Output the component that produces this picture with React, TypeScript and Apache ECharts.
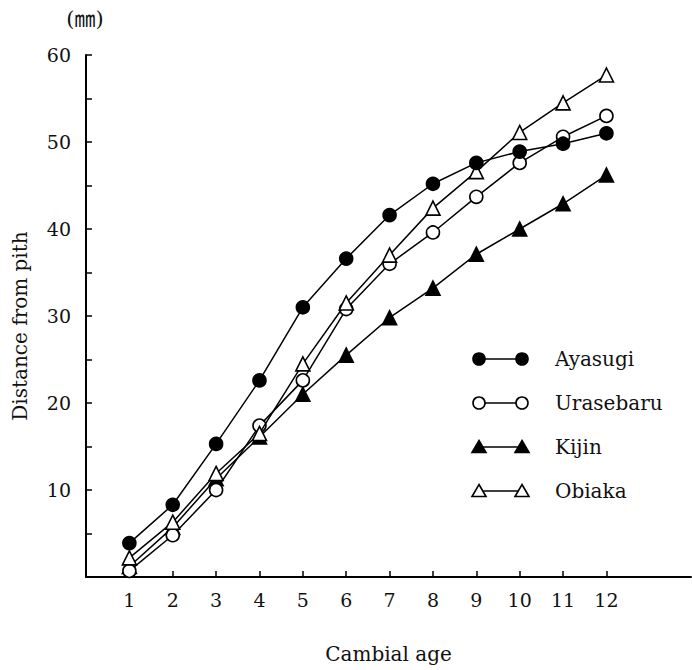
import React, { useEffect, useRef } from "react";
import * as echarts from "echarts";

const ages = [1, 2, 3, 4, 5, 6, 7, 8, 9, 10, 11, 12];
const ayasugi = [3.9, 8.3, 15.3, 22.6, 31.0, 36.6, 41.6, 45.2, 47.6, 48.9, 49.8, 51.0];
const urasebaru = [0.7, 4.8, 10.0, 17.4, 22.6, 30.8, 36.0, 39.6, 43.7, 47.6, 50.6, 53.0];
const kijin = [1.2, 5.7, 11.3, 16.1, 21.0, 25.5, 29.8, 33.2, 37.1, 40.0, 42.9, 46.2];
const obiaka = [2.2, 6.3, 11.9, 16.5, 24.5, 31.5, 37.0, 42.4, 46.6, 51.1, 54.5, 57.7];
const yLabels = [10, 20, 30, 40, 50, 60];
const legendNames = ["Ayasugi", "Urasebaru", "Kijin", "Obiaka"];

const FONT = "DejaVu Serif";

export default function App() {
  const ref = useRef<HTMLDivElement>(null);
  useEffect(() => {
    if (!ref.current) return;
    const chart = echarts.init(ref.current, null, { renderer: "svg" });
    const pairs = (arr: number[]) => ages.map((a, i) => [a, arr[i]]);
    const mk = (name: string, arr: number[], symbol: string, filled: boolean, z: number) => ({
      name,
      type: "line",
      data: pairs(arr),
      symbol,
      symbolSize: symbol === "triangle" ? 14 : 13,
      z,
      lineStyle: { color: "#000", width: 1.5 },
      itemStyle: { color: filled ? "#000" : "#fff", borderColor: "#000", borderWidth: 1.6 },
    });

    // legend via graphic
    const rowsY = [359, 403, 447, 491];
    const styles = [
      { sym: "circle", filled: true },
      { sym: "circle", filled: false },
      { sym: "triangle", filled: true },
      { sym: "triangle", filled: false },
    ];
    const lx1 = 479, lx2 = 522;
    const graphics: any[] = [];
    legendNames.forEach((n, i) => {
      const y = rowsY[i];
      const st = styles[i];
      graphics.push({ type: "line", shape: { x1: lx1, y1: y, x2: lx2, y2: y }, style: { stroke: "#000", lineWidth: 1.5 } });
      [lx1, lx2].forEach((cx) => {
        const fill = st.filled ? "#000" : "#fff";
        if (st.sym === "circle") {
          graphics.push({ type: "circle", shape: { cx, cy: y, r: 6 }, style: { fill, stroke: "#000", lineWidth: 1.6 } });
        } else {
          graphics.push({
            type: "polygon",
            shape: { points: [[cx, y - 6.5], [cx + 7, y + 5.5], [cx - 7, y + 5.5]] },
            style: { fill, stroke: "#000", lineWidth: 1.6 },
          });
        }
      });
      graphics.push({
        type: "text",
        x: 555,
        y,
        style: { text: n, font: `20px "${FONT}"`, fill: "#111", verticalAlign: "middle" },
      });
    });
    graphics.push({
      type: "text",
      x: 85,
      y: 19,
      style: { text: "(㎜)", font: `21px "${FONT}", "Noto Sans CJK JP"`, fill: "#111", align: "center", verticalAlign: "middle" },
    });
    graphics.push({
      type: "text",
      x: 20,
      y: 326,
      rotation: Math.PI / 2,
      style: { text: "Distance from pith", font: `20px "${FONT}"`, fill: "#111", align: "center", verticalAlign: "middle" },
    });

    chart.setOption({
      animation: false,
      backgroundColor: "#fff",
      grid: { left: 86, right: 1, top: 55, bottom: 93, containLabel: false, outerBoundsMode: "none" },
      xAxis: {
        type: "value",
        min: 0,
        max: 13.95,
        interval: 1,
        name: "Cambial age",
        nameLocation: "middle",
        nameGap: 67,
        nameTextStyle: { fontFamily: FONT, fontSize: 20, color: "#111" },
        axisLine: { show: true, onZero: false, lineStyle: { color: "#000", width: 2 } },
        axisTick: { show: true, inside: true, length: 6, lineStyle: { color: "#000", width: 1.5 }, customValues: ages },
        axisLabel: {
          fontFamily: FONT,
          fontSize: 19,
          color: "#111",
          margin: 13,
          customValues: ages,
        },
        splitLine: { show: false },
      },
      yAxis: {
        type: "value",
        min: 0,
        max: 60,
        interval: 5,
        axisLine: { show: true, lineStyle: { color: "#000", width: 2 } },
        axisTick: { show: true, inside: true, length: 6, lineStyle: { color: "#000", width: 1.5 } },
        axisLabel: {
          fontFamily: FONT,
          fontSize: 19,
          color: "#111",
          margin: 15,
          customValues: yLabels,
        },
        splitLine: { show: false },
      },
      graphic: graphics,
      series: [
        mk("Kijin", kijin, "triangle", true, 2),
        mk("Urasebaru", urasebaru, "circle", false, 3),
        mk("Obiaka", obiaka, "triangle", false, 4),
        mk("Ayasugi", ayasugi, "circle", true, 5),
      ],
    });
    return () => chart.dispose();
  }, []);
  return <div ref={ref} style={{ width: 692, height: 670, position: "absolute", left: 0, top: 0 }} />;
}
